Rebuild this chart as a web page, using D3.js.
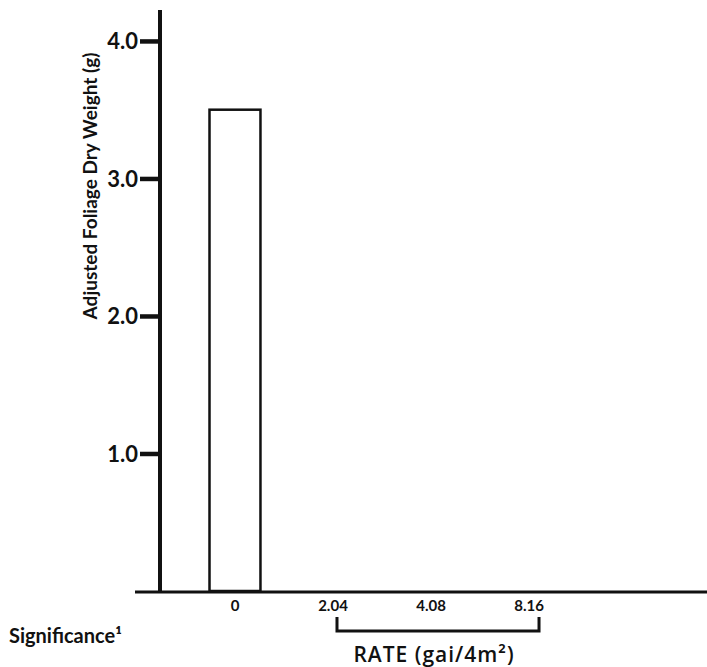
<!DOCTYPE html>
<html>
<head>
<meta charset="utf-8">
<script src="https://cdn.jsdelivr.net/npm/d3@7"></script>
<style>
  html, body { margin: 0; padding: 0; background: #fff; }
  svg text { font-family: Lato, "Noto Sans", sans-serif; fill: #111; }
</style>
</head>
<body>
<svg id="chart" width="707" height="667"></svg>
<script>
// Application rates (gai/4m²) and adjusted foliage dry weight (g)
const rates = ["0", "2.04", "4.08", "8.16"];
const weights = [3.5, 0, 0, 0];
const yTicks = [1.0, 2.0, 3.0, 4.0];
const treatedRates = ["2.04", "8.16"]; // bracketed span under the axis

const svg = d3.select("#chart");
const ink = "#111";

const y = d3.scaleLinear().domain([0, 4.225]).range([591, 10]);
const x = d3.scaleBand().domain(rates).range([209.5, 554.5])
  .paddingInner(0.48).paddingOuter(0);

const axisX = 160;
const baseY = y(0);

// bars (only non-zero values produce a visible box)
svg.append("g").selectAll("rect")
  .data(rates.map((r, i) => ({ r, v: weights[i] })).filter(d => d.v > 0))
  .join("rect")
  .attr("x", d => x(d.r))
  .attr("y", d => y(d.v))
  .attr("width", x.bandwidth())
  .attr("height", d => baseY - y(d.v))
  .attr("fill", "#fff")
  .attr("stroke", ink)
  .attr("stroke-width", 2.5);

// y axis
const yAxis = d3.axisLeft(y).tickValues(yTicks).tickFormat(d3.format(".1f"))
  .tickSize(20).tickPadding(2);
const gy = svg.append("g").attr("transform", `translate(${axisX},0)`).call(yAxis);
gy.select(".domain").remove();
gy.selectAll(".tick line").attr("stroke", ink).attr("stroke-width", 4.5);
gy.selectAll(".tick text")
  .attr("font-size", 22).attr("font-weight", 700)
  .style("font-family", "Lato, 'Noto Sans', sans-serif")
  .attr("fill", ink).attr("dy", "0.36em");

svg.append("line")
  .attr("x1", axisX).attr("x2", axisX)
  .attr("y1", y.range()[1]).attr("y2", baseY + 1)
  .attr("stroke", ink).attr("stroke-width", 4);

// x axis line
svg.append("line")
  .attr("x1", 135).attr("x2", 707)
  .attr("y1", baseY + 1).attr("y2", baseY + 1)
  .attr("stroke", ink).attr("stroke-width", 3);

// x category labels
const xAxis = d3.axisBottom(x).tickSize(0).tickPadding(8);
const gx = svg.append("g").attr("transform", `translate(0,${baseY + 1})`).call(xAxis);
gx.select(".domain").remove();
gx.selectAll(".tick text")
  .attr("font-size", 15).attr("font-weight", 700)
  .style("font-family", "Lato, 'Noto Sans', sans-serif")
  .attr("fill", ink);

// bracket spanning the treated rates
const bx0 = x(treatedRates[0]) + x.bandwidth() / 2 + 4;
const bx1 = x(treatedRates[1]) + x.bandwidth() / 2 + 10;
svg.append("path")
  .attr("d", `M${bx0},${617}V${631}H${bx1}V${617}`)
  .attr("fill", "none").attr("stroke", ink).attr("stroke-width", 3);

// axis titles
svg.append("text")
  .attr("transform", `translate(97,${186}) rotate(-90)`)
  .attr("text-anchor", "middle")
  .attr("font-size", 19).attr("font-weight", 700)
  .text("Adjusted Foliage Dry Weight (g)");

svg.append("text")
  .attr("x", 434).attr("y", 662)
  .attr("text-anchor", "middle")
  .style("font-family", "'Open Sans', sans-serif")
  .style("letter-spacing", "1px")
  .attr("font-size", 21).attr("font-weight", 600)
  .text("RATE (gai/4m²)");

svg.append("text")
  .attr("x", 9).attr("y", 643)
  .attr("font-size", 20).attr("font-weight", 700)
  .text("Significance¹");
</script>
</body>
</html>
